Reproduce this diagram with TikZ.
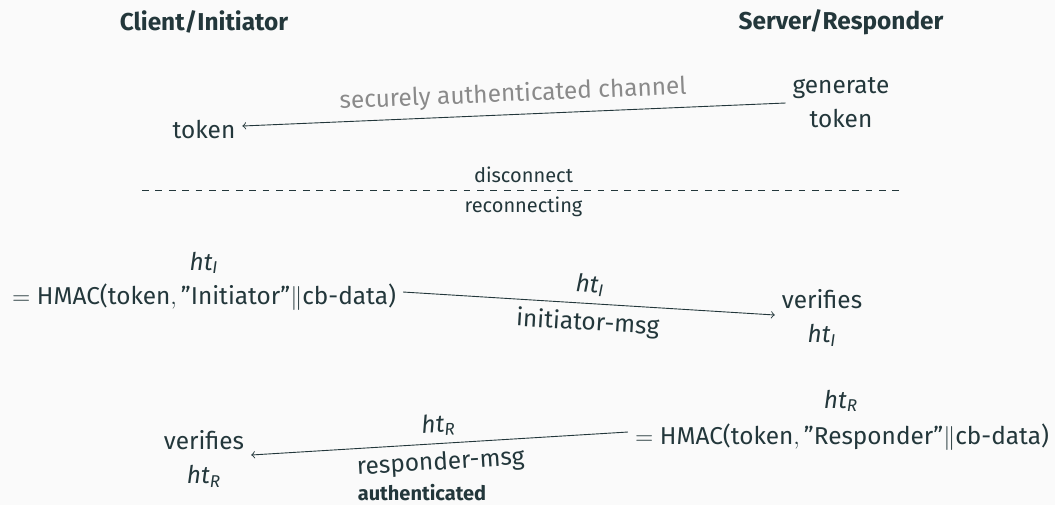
\documentclass[tikz,border=0pt]{standalone}
\usepackage{amsmath}
\usepackage{fontspec}
\setmainfont{Fira Sans}
\definecolor{mDarkTeal}{HTML}{23373B}
\definecolor{bgcol}{HTML}{FAFAFA}
\definecolor{chgray}{HTML}{8A8A8A}

\tikzset{
  txt/.style={text=mDarkTeal, font=\fontsize{12.2}{17}\selectfont, align=center},
  head/.style={text=mDarkTeal, font=\fontsize{12.2}{14}\selectfont\bfseries},
  smalltxt/.style={text=mDarkTeal, font=\fontsize{10}{12}\selectfont},
  smallbold/.style={text=mDarkTeal, font=\fontsize{10}{12}\selectfont\bfseries},
  msg/.style={draw=mDarkTeal, line width=0.45pt, ->},
  lbl/.style={sloped, text=mDarkTeal, font=\fontsize{12.2}{14}\selectfont, inner sep=3.7pt},
}
\newcommand{\htI}{\textit{ht}_{\textit{I}}}
\newcommand{\htR}{\textit{ht}_{\textit{R}}}

\begin{document}
\begin{tikzpicture}[x=0.5pt, y=-0.5pt]
  \fill[bgcol] (0,0) rectangle (1055,505);
  \useasboundingbox (0,0) rectangle (1055,505);

  % parties
  \node[head] (cli) at (204,22) {Client/Initiator};
  \node[head] (srv) at (841,22) {Server/Responder};

  % token distribution
  \node[txt] (tok) at (204,129) {token};
  \node[txt] (gen) at (841,103) {generate\\token};
  \draw[msg] (gen.west) -- node[lbl, above, text=chgray] {securely authenticated channel} ([yshift=1.5pt]tok.east);

  % session break
  \coordinate (dl) at (142,190);
  \coordinate (dr) at (905,190);
  \draw[mDarkTeal, line width=0.4pt, dash pattern=on 3.35pt off 3.35pt] (dl) --
    node[smalltxt, above] {disconnect}
    node[smalltxt, below] {reconnecting} (dr);

  % initiator message
  \node[txt] (htIl) at (204,263) {$\htI$};
  \node[txt] (hmacI) at (204,297) {$=\text{HMAC(token},\text{”Initiator”}\|\text{cb-data)}$};
  \node[txt] (verI) at (822,318) {verifies\\$\htI$};
  \draw[msg] ([yshift=2.5pt]hmacI.east) --
    node[lbl, above] {$\htI$}
    node[lbl, below] {initiator-msg} ([yshift=1.5pt]verI.west);

  % responder message
  \node[txt] (htRl) at (841,401) {$\htR$};
  \node[txt] (hmacR) at (842,437) {$=\text{HMAC(token},\text{”Responder”}\|\text{cb-data)}$};
  \node[txt] (verR) at (204,459) {verifies\\$\htR$};
  \draw[msg] ([yshift=2.5pt]hmacR.west) --
    node[lbl, above] {$\htR$}
    node[lbl, below] {responder-msg} ([yshift=2pt]verR.east);

  \node[smallbold] (auth) at (422,493) {authenticated};
\end{tikzpicture}
\end{document}
